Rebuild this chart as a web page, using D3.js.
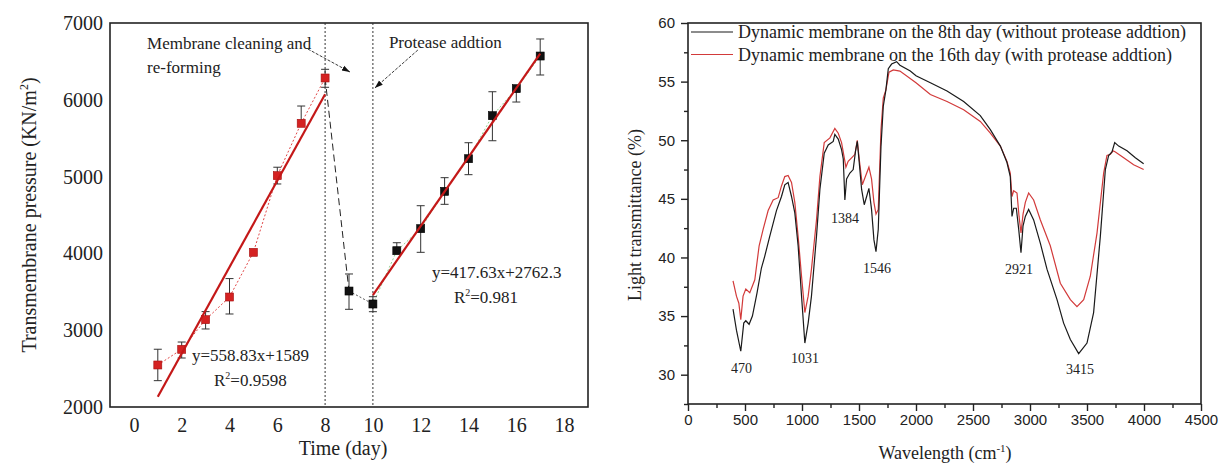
<!DOCTYPE html>
<html>
<head>
<meta charset="utf-8">
<script src="https://cdn.jsdelivr.net/npm/d3@7"></script>
<style>
  body { margin: 0; background: #fff; }
  svg { display: block; font-family: "Liberation Serif", "DejaVu Serif", serif; }
</style>
</head>
<body>
<svg width="1224" height="464"></svg>
<script>
// ---- left panel data: transmembrane pressure by day ----
const days = [1, 2, 3, 4, 5, 6, 7, 8, 9, 10, 11, 12, 13, 14, 15, 16, 17];
const pressure = [2547, 2751, 3137, 3432, 4014, 5012, 5694, 6284, 3510, 3341, 4035, 4322, 4808, 5233, 5793, 6145, 6570];
const errUp   = [205, 95, 105, 240, 0, 110, 225, 113, 222, 95, 104, 299, 178, 208, 312, 0, 222];
const errDown = [204, 113, 121, 221, 0, 108, 0, 121, 238, 100, 0, 308, 169, 208, 326, 174, 247];
const fitDays1 = [1, 8];
const fitVals1 = [2134, 6072];
const fitDays2 = [10, 17];
const fitVals2 = [3458, 6600];
const dayTicks = [0, 2, 4, 6, 8, 10, 12, 14, 16, 18];
const pressureTicks = [2000, 3000, 4000, 5000, 6000, 7000];
const markerDays = [8, 10];

// ---- right panel data: FTIR spectra ----
const wn8 = [395, 425, 463, 489, 507, 536, 565, 606, 644, 673, 717, 776, 820, 849, 878, 908, 937, 966, 996, 1025,
  1054, 1083, 1127, 1157, 1195, 1230, 1274, 1288, 1318, 1347, 1362, 1376, 1391, 1420, 1449, 1470, 1485, 1502, 1523,
  1546, 1567, 1587, 1610, 1631, 1649, 1669, 1693, 1713, 1736, 1757, 1786, 1830, 1859, 1950, 2000, 2126, 2272, 2418,
  2564, 2652, 2740, 2798, 2827, 2842, 2857, 2880, 2901, 2921, 2939, 2959, 2988, 3032, 3091, 3149, 3237, 3295, 3354,
  3427, 3500, 3558, 3617, 3661, 3690, 3719, 3743, 3778, 3851, 3924, 3997];
const tr8 = [35.6, 33.8, 32.0, 34.4, 34.6, 34.3, 35.0, 37.0, 39.1, 40.1, 41.8, 44.0, 45.2, 46.2, 46.4, 45.2, 43.8, 41.0, 36.7, 32.7,
  34.4, 36.7, 41.8, 45.8, 48.9, 49.6, 49.9, 50.5, 50.1, 49.2, 48.4, 44.9, 46.7, 47.2, 47.5, 49.1, 49.9, 48.1, 45.8,
  44.5, 45.2, 45.9, 44.1, 41.5, 40.5, 42.4, 49.5, 52.9, 54.3, 56.1, 56.5, 56.7, 56.4, 55.9, 55.5, 54.9, 54.2, 53.3,
  52.1, 50.9, 49.5, 48.1, 46.9, 43.5, 44.2, 44.2, 42.4, 40.4, 42.7, 43.5, 44.1, 43.2, 41.2, 39.0, 36.4, 34.4, 33.0,
  31.8, 32.7, 35.3, 41.8, 47.5, 48.7, 49.0, 49.8, 49.5, 49.1, 48.5, 48.0];
const wn16 = [395, 425, 446, 463, 483, 507, 542, 586, 624, 659, 703, 747, 791, 820, 849, 878, 908, 937, 966, 996,
  1025, 1054, 1083, 1127, 1157, 1195, 1245, 1288, 1318, 1347, 1367, 1385, 1405, 1435, 1464, 1485, 1502, 1529, 1552,
  1587, 1610, 1631, 1649, 1669, 1693, 1713, 1736, 1763, 1801, 1859, 2000, 2126, 2272, 2418, 2564, 2652, 2740, 2798,
  2827, 2842, 2857, 2886, 2904, 2921, 2939, 2959, 2988, 3032, 3091, 3178, 3266, 3354, 3412, 3471, 3529, 3588, 3646,
  3675, 3705, 3728, 3749, 3822, 3909, 3997];
const tr16 = [38.0, 36.7, 36.1, 34.7, 36.7, 37.3, 37.0, 38.1, 41.0, 42.4, 44.0, 44.9, 45.1, 46.1, 46.9, 47.0, 46.4, 44.7, 41.8, 38.4,
  35.3, 36.7, 39.0, 43.2, 46.9, 49.8, 50.2, 51.0, 50.6, 49.8, 48.7, 47.7, 48.2, 48.5, 48.8, 50.0, 48.4, 46.2, 46.8,
  47.7, 46.7, 44.7, 43.7, 44.1, 50.9, 53.6, 54.3, 55.8, 56.0, 55.9, 54.9, 53.9, 53.3, 52.6, 51.6, 50.6, 49.5, 48.2,
  47.2, 45.2, 45.7, 45.5, 43.5, 42.1, 43.7, 44.7, 45.5, 44.9, 43.2, 41.0, 37.8, 36.4, 35.8, 36.4, 38.4, 42.1, 47.2,
  48.7, 48.8, 49.1, 49.0, 48.5, 47.9, 47.5];
const peakNames = ['470', '1031', '1384', '1546', '2921', '3415'];
const peakW = [470, 1026, 1377, 1658, 2904, 3439];
const peakT = [30.6, 31.4, 43.4, 39.1, 39.0, 30.5];
const legendNames = ['Dynamic membrane on the 8th day (without protease addtion)',
  'Dynamic membrane on the 16th day (with protease addtion)'];
const legendColors = ['#1a1a1a', '#d23a3a'];

const svg = d3.select('svg');
const serif = '"Liberation Serif", "DejaVu Serif", serif';
const sans = '"Liberation Sans", Arial, sans-serif';
const plain = d3.format('d');

// =========== left panel ===========
const x = d3.scaleLinear().domain([-1, 19]).range([110, 588]);
const y = d3.scaleLinear().domain([2000, 7000]).range([407, 23]);
const left = svg.append('g');

left.append('g')
  .attr('transform', `translate(0, ${y(2000)})`)
  .call(d3.axisBottom(x).tickValues(dayTicks).tickSize(0).tickPadding(11).tickFormat(plain))
  .call(g => g.select('.domain').remove())
  .selectAll('text').style('font-family', serif).style('font-size', '20px').attr('fill', '#222');

left.append('g')
  .attr('transform', `translate(${x(-1)}, 0)`)
  .call(d3.axisLeft(y).tickValues(pressureTicks).tickSize(0).tickPadding(7).tickFormat(plain))
  .call(g => g.select('.domain').remove())
  .selectAll('text').style('font-family', serif).style('font-size', '20px').attr('fill', '#222');

left.append('rect')
  .attr('x', x(-1)).attr('y', y(7000))
  .attr('width', x(19) - x(-1)).attr('height', y(2000) - y(7000))
  .attr('fill', 'none').attr('stroke', '#222').attr('stroke-width', 1.6);

// vertical dotted markers
left.selectAll('.vline').data(markerDays).join('line')
  .attr('x1', d => x(d)).attr('x2', d => x(d))
  .attr('y1', y(7000)).attr('y2', y(2000))
  .attr('stroke', '#333').attr('stroke-width', 1).attr('stroke-dasharray', '2,2');

const pts = days.map((d, i) => ({ day: d, v: pressure[i], up: errUp[i], dn: errDown[i], red: i < 8 }));
const line = d3.line().x(d => x(d.day)).y(d => y(d.v));

left.append('path').attr('d', line(pts.slice(0, 8)))
  .attr('fill', 'none').attr('stroke', '#d33').attr('stroke-width', 0.9).attr('stroke-dasharray', '2,2');
left.append('path').attr('d', line(pts.slice(7, 9)))
  .attr('fill', 'none').attr('stroke', '#222').attr('stroke-width', 1).attr('stroke-dasharray', '7,4');
left.append('path').attr('d', line(pts.slice(8, 10)))
  .attr('fill', 'none').attr('stroke', '#444').attr('stroke-width', 0.9).attr('stroke-dasharray', '2,2');
left.append('path').attr('d', line(pts.slice(9)))
  .attr('fill', 'none').attr('stroke', '#8fd08f').attr('stroke-width', 1).attr('stroke-dasharray', '2,2');

// error bars
const eb = left.selectAll('.eb').data(pts.filter(d => d.up > 0 || d.dn > 0)).join('g')
  .attr('stroke', '#333').attr('stroke-width', 1);
eb.append('line')
  .attr('x1', d => x(d.day)).attr('x2', d => x(d.day))
  .attr('y1', d => y(d.v + d.up)).attr('y2', d => y(d.v - d.dn));
eb.filter(d => d.up > 0).append('line')
  .attr('x1', d => x(d.day) - 4).attr('x2', d => x(d.day) + 4)
  .attr('y1', d => y(d.v + d.up)).attr('y2', d => y(d.v + d.up));
eb.filter(d => d.dn > 0).append('line')
  .attr('x1', d => x(d.day) - 4).attr('x2', d => x(d.day) + 4)
  .attr('y1', d => y(d.v - d.dn)).attr('y2', d => y(d.v - d.dn));

// markers
left.selectAll('.pt').data(pts).join('rect')
  .attr('x', d => x(d.day) - 4).attr('y', d => y(d.v) - 4)
  .attr('width', 8).attr('height', 8)
  .attr('fill', d => d.red ? '#d42222' : '#111')
  .attr('stroke', d => d.red ? '#a51010' : '#000').attr('stroke-width', 0.6);

// regression lines
[[fitDays1, fitVals1], [fitDays2, fitVals2]].forEach(([dd, vv]) => {
  left.append('path')
    .attr('d', d3.line()(dd.map((d, i) => [x(d), y(vv[i])])))
    .attr('stroke', '#c41818').attr('stroke-width', 2.2).attr('fill', 'none');
});

// annotations
const defs = svg.append('defs');
defs.append('marker').attr('id', 'ah').attr('viewBox', '0 0 10 10')
  .attr('refX', 10).attr('refY', 5).attr('markerWidth', 9).attr('markerHeight', 9)
  .attr('orient', 'auto-start-reverse')
  .append('path').attr('d', 'M0,1.5 L10,5 L0,8.5 z').attr('fill', '#111');

const arrows = [[7.28, 6661, 9.04, 6362], [11.88, 6648, 10.08, 6154]];
left.selectAll('.arr').data(arrows).join('line')
  .attr('x1', d => x(d[0])).attr('y1', d => y(d[1]))
  .attr('x2', d => x(d[2])).attr('y2', d => y(d[3]))
  .attr('stroke', '#222').attr('stroke-width', 0.9).attr('stroke-dasharray', '3,1.5')
  .attr('marker-end', 'url(#ah)');

const notes = [
  ['Membrane cleaning and', 0.55, 6661],
  ['re-forming', 0.55, 6349],
  ['Protease addtion', 10.67, 6674],
  ['y=558.83x+1589', 2.43, 2599],
  ['y=417.63x+2762.3', 12.47, 3680]
];
left.selectAll('.note').data(notes).join('text')
  .attr('x', d => x(d[1])).attr('y', d => y(d[2]))
  .style('font-size', '17px').attr('fill', '#222').text(d => d[0]);

const rNotes = [['0.9598', 3.35, 2273], ['0.981', 13.39, 3354]];
rNotes.forEach(([val, dd, vv]) => {
  const t = left.append('text').attr('x', x(dd)).attr('y', y(vv))
    .style('font-size', '17px').attr('fill', '#222');
  t.append('tspan').text('R');
  t.append('tspan').attr('dy', -7).style('font-size', '10px').text('2');
  t.append('tspan').attr('dy', 7).text('=' + val);
});

left.append('text').attr('x', 343).attr('y', 455)
  .attr('text-anchor', 'middle').style('font-size', '20px').attr('fill', '#222').text('Time (day)');

const yl = left.append('text').attr('transform', 'translate(36, 215) rotate(-90)')
  .attr('text-anchor', 'middle').style('font-size', '20px').attr('fill', '#222');
yl.append('tspan').text('Transmembrane pressure (KN/m');
yl.append('tspan').attr('dy', -8).style('font-size', '12px').text('2');
yl.append('tspan').attr('dy', 8).text(')');

// =========== right panel ===========
const xr = d3.scaleLinear().domain([0, 4500]).range([688, 1201]);
const yr = d3.scaleLinear().domain([27.5, 60]).range([404, 23]);
const right = svg.append('g');

right.append('g')
  .attr('transform', `translate(0, ${yr(27.5)})`)
  .call(d3.axisBottom(xr).tickValues(d3.range(250, 4500, 500)).tickSize(4).tickFormat(''))
  .call(g => g.select('.domain').remove())
  .selectAll('line').attr('stroke', '#222').attr('stroke-width', 1.4);
right.append('g')
  .attr('transform', `translate(0, ${yr(27.5)})`)
  .call(d3.axisBottom(xr).tickValues(d3.range(0, 4501, 500)).tickSize(7).tickPadding(3).tickFormat(plain))
  .call(g => g.select('.domain').remove())
  .call(g => g.selectAll('line').attr('stroke', '#222').attr('stroke-width', 1.4))
  .selectAll('text').style('font-family', sans).style('font-size', '15px').attr('fill', '#222');

right.append('g')
  .attr('transform', `translate(${xr(0)}, 0)`)
  .call(d3.axisLeft(yr).tickValues(d3.range(27.5, 60, 5)).tickSize(4).tickFormat(''))
  .call(g => g.select('.domain').remove())
  .selectAll('line').attr('stroke', '#222').attr('stroke-width', 1.4);
right.append('g')
  .attr('transform', `translate(${xr(0)}, 0)`)
  .call(d3.axisLeft(yr).tickValues(d3.range(30, 61, 5)).tickSize(7).tickPadding(6).tickFormat(plain))
  .call(g => g.select('.domain').remove())
  .call(g => g.selectAll('line').attr('stroke', '#222').attr('stroke-width', 1.4))
  .selectAll('text').style('font-family', sans).style('font-size', '15px').attr('fill', '#222');

right.append('rect')
  .attr('x', xr(0)).attr('y', yr(60))
  .attr('width', xr(4500) - xr(0)).attr('height', yr(27.5) - yr(60))
  .attr('fill', 'none').attr('stroke', '#222').attr('stroke-width', 1.6);

const spec = d3.line().x(d => xr(d[0])).y(d => yr(d[1]));
right.append('path').attr('d', spec(wn16.map((w, i) => [w, tr16[i]])))
  .attr('fill', 'none').attr('stroke', legendColors[1]).attr('stroke-width', 1.2);
right.append('path').attr('d', spec(wn8.map((w, i) => [w, tr8[i]])))
  .attr('fill', 'none').attr('stroke', legendColors[0]).attr('stroke-width', 1.2);

right.selectAll('.peak').data(peakNames).join('text')
  .attr('x', (d, i) => xr(peakW[i])).attr('y', (d, i) => yr(peakT[i]) + 5)
  .attr('text-anchor', 'middle').style('font-size', '14px').attr('fill', '#222').text(d => d);

const lg = right.selectAll('.lg').data(legendNames).join('g')
  .attr('transform', (d, i) => `translate(691, ${32 + i * 22.5})`);
lg.append('line').attr('x1', 0).attr('x2', 42)
  .attr('stroke', (d, i) => legendColors[i]).attr('stroke-width', 1.2);
lg.append('text').attr('x', 47).attr('y', 6)
  .style('font-size', '18px').attr('fill', '#222').text(d => d);

right.append('text').attr('transform', 'translate(641, 215) rotate(-90)')
  .attr('text-anchor', 'middle').style('font-size', '18px').attr('fill', '#222')
  .text('Light transmittance (%)');

const xl = right.append('text').attr('x', 945).attr('y', 459)
  .attr('text-anchor', 'middle').style('font-size', '18px').attr('fill', '#222');
xl.append('tspan').text('Wavelength (cm');
xl.append('tspan').attr('dy', -7).style('font-size', '11px').text('-1');
xl.append('tspan').attr('dy', 7).text(')');
</script>
</body>
</html>
